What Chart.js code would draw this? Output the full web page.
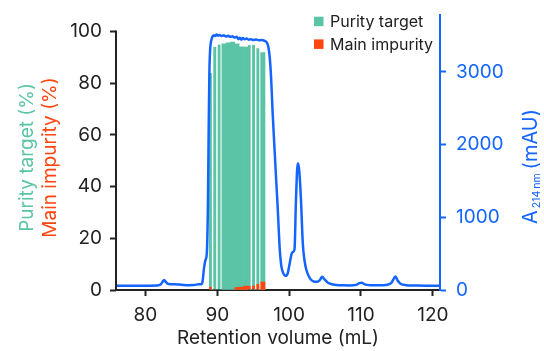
<!DOCTYPE html>
<html><head><meta charset="utf-8">
<script src="https://cdn.jsdelivr.net/npm/chart.js@4.4.1/dist/chart.umd.min.js"></script>
<style>html,body{margin:0;padding:0;background:#fff;}#wrap{width:544px;height:351px;position:relative;}</style>
</head><body><div id="wrap"><canvas id="c"></canvas></div>
<script>
// ---- data ----
const fractionVolumes = [89.14, 89.74, 90.34, 90.94, 91.54, 92.14, 92.74, 93.34, 93.94, 94.54, 95.14, 95.74, 96.34];
const purityTarget    = [84.0, 94.1, 95.0, 95.2, 95.6, 95.9, 95.2, 94.1, 94.0, 94.8, 94.9, 93.5, 91.9];
const mainImpurity    = [1.3, 0, 0, 0, 0, 0, 1.0, 1.1, 1.5, 1.5, 1.7, 2.3, 3.1];
const fractionGapAfter = [0, 1, 2, 9, 10, 11];

const traceVolume = [75.9, 77.5, 79.0, 80.5, 81.6, 82.1, 82.4, 82.6, 82.85, 83.2, 84.0, 85.0, 86.0, 86.8, 87.4, 87.8, 87.95, 88.15, 88.35, 88.55, 88.7, 88.8, 88.9, 89.0, 89.15, 89.3, 89.5, 89.7, 89.9, 90.1, 90.3, 90.6, 90.9, 91.2, 91.5, 91.8, 92.1, 92.4, 92.7, 92.95, 93.15, 93.35, 93.55, 93.8, 94.1, 94.4, 94.7, 95.0, 95.4, 95.8, 96.2, 96.6, 96.9, 97.1, 97.3, 97.5, 97.7, 97.9, 98.15, 98.4, 98.7, 98.9, 99.1, 99.5, 99.8, 100.1, 100.35, 100.55, 100.75, 100.95, 101.2, 101.4, 101.65, 101.9, 102.15, 102.4, 102.9, 103.4, 103.9, 104.3, 104.6, 104.9, 105.4, 106.0, 106.6, 107.5, 108.5, 109.3, 109.8, 110.1, 110.5, 111.3, 112.5, 113.5, 114.2, 114.6, 114.8, 115.1, 115.5, 116.3, 117.5, 119.0, 121.0];
const traceAbsorbance = [60, 58, 59, 60, 62, 75, 115, 138, 110, 82, 78, 72, 66, 68, 80, 80, 120, 300, 410, 520, 1200, 2200, 3000, 3300, 3430, 3480, 3505, 3495, 3515, 3500, 3510, 3495, 3505, 3488, 3500, 3484, 3490, 3474, 3484, 3452, 3470, 3444, 3466, 3450, 3460, 3444, 3452, 3440, 3446, 3436, 3440, 3428, 3405, 3350, 3200, 2900, 2450, 2064, 1600, 1146, 550, 340, 252, 195, 230, 380, 500, 525, 560, 1238, 1743, 1650, 1238, 643, 400, 275, 161, 118, 114, 140, 183, 150, 100, 80, 69, 64, 63, 70, 95, 100, 78, 66, 64, 70, 95, 160, 185, 130, 85, 66, 62, 60, 60];

const xTicks = [80, 90, 100, 110, 120];
const leftTicks = [0, 20, 40, 60, 80, 100];
const rightTicks = [0, 1000, 2000, 3000];

// ---- style ----
const GREEN = '#5cc4a6', RED = '#ff460f', BLUE = '#1464ff', INK = '#222222';
const FONT = "Inter, 'Liberation Sans', sans-serif";

const zeroPad = s => { s.paddingTop = 0; s.paddingBottom = 0; s.paddingLeft = 0; s.paddingRight = 0; };

const annot = {
  id: 'annot',
  afterDraw(chart) {
    const ctx = chart.ctx, a = chart.chartArea, yL = chart.scales.y;
    ctx.save();
    // left axis line from 0 to 100
    ctx.strokeStyle = INK; ctx.lineWidth = 2;
    ctx.beginPath();
    ctx.moveTo(a.left, yL.getPixelForValue(0) + 1);
    ctx.lineTo(a.left, yL.getPixelForValue(leftTicks[leftTicks.length - 1]) - 1);
    ctx.stroke();

    const cy = (a.top + a.bottom) / 2 + 5;
    // left titles
    ctx.textAlign = 'center'; ctx.textBaseline = 'middle';
    ctx.font = "19px " + FONT;
    ctx.save(); ctx.translate(27, cy); ctx.rotate(-Math.PI / 2);
    ctx.fillStyle = GREEN; ctx.fillText('Purity target (%)', 0, 0); ctx.restore();
    ctx.save(); ctx.translate(50, cy); ctx.rotate(-Math.PI / 2);
    ctx.fillStyle = RED; ctx.fillText('Main impurity (%)', 0, 0); ctx.restore();

    // right title A214 nm (mAU)
    ctx.save(); ctx.translate(537, cy + 9); ctx.rotate(-Math.PI / 2);
    ctx.fillStyle = BLUE; ctx.textAlign = 'left'; ctx.textBaseline = 'alphabetic';
    const big = "20px " + FONT, small = "10.5px " + FONT;
    ctx.font = big; const wA = ctx.measureText('A').width; const wR = ctx.measureText('(mAU)').width;
    ctx.font = small; const wS = ctx.measureText('214\u2009nm').width;
    const W = wA + 2 + wS + 4 + wR;
    let x0 = -W / 2;
    ctx.font = big; ctx.fillText('A', x0, 0);
    ctx.font = small; ctx.fillText('214\u2009nm', x0 + wA + 2, 3);
    ctx.font = big; ctx.fillText('(mAU)', x0 + wA + 2 + wS + 4, 0);
    ctx.restore();

    // legend
    const items = [['Purity target', GREEN], ['Main impurity', RED]];
    ctx.font = "16px " + FONT; ctx.textAlign = 'left'; ctx.textBaseline = 'alphabetic';
    items.forEach((it, i) => {
      const y = 16.7 + i * 22.7;
      ctx.fillStyle = it[1]; ctx.fillRect(314, y, 9.5, 9.5);
      ctx.fillStyle = INK; ctx.fillText(it[0], 330, y + 10.6);
    });
    ctx.restore();
  }
};

const gapBorder = c => fractionGapAfter.includes(c.dataIndex) ? {left: 0, right: 1.7, top: 0, bottom: 0} : 0;

new Chart(document.getElementById('c'), {
  type: 'bar',
  data: {
    datasets: [
      {
        type: 'line', label: 'A214 nm', yAxisID: 'y1', xAxisID: 'x', order: 0,
        data: traceVolume.map((x, i) => ({x, y: traceAbsorbance[i]})),
        borderColor: BLUE, borderWidth: 2.5, pointRadius: 0, fill: false,
        cubicInterpolationMode: 'monotone'
      },
      {
        type: 'bar', label: 'Main impurity', yAxisID: 'y', xAxisID: 'x', order: 1, grouped: false,
        data: fractionVolumes.map((x, i) => ({x, y: mainImpurity[i] > 0 ? mainImpurity[i] : null})),
        backgroundColor: RED, borderColor: '#ffffff', borderWidth: gapBorder,
        barPercentage: 1, categoryPercentage: 1
      },
      {
        type: 'bar', label: 'Purity target', yAxisID: 'y', xAxisID: 'x', order: 2, grouped: false,
        data: fractionVolumes.map((x, i) => ({x, y: purityTarget[i]})),
        backgroundColor: GREEN, borderColor: '#ffffff', borderWidth: gapBorder,
        barPercentage: 1, categoryPercentage: 1
      }
    ]
  },
  options: {
    responsive: true, maintainAspectRatio: false, animation: false, devicePixelRatio: 1,
    events: [],
    layout: {padding: {top: 15, left: 0, right: 0, bottom: 0}},
    plugins: {legend: {display: false}, tooltip: {enabled: false}},
    scales: {
      x: {
        type: 'linear', position: 'bottom', min: 75.9, max: 121, offset: false,
        grid: {display: true, drawOnChartArea: false, drawTicks: true, tickLength: 6, tickWidth: 2, tickColor: INK, offset: false},
        border: {display: true, color: INK, width: 2},
        ticks: {color: INK, font: {family: FONT, size: 19}, padding: 8, maxRotation: 0, autoSkip: false, callback: v => String(v)},
        afterBuildTicks: s => { s.ticks = xTicks.map(v => ({value: v})); },
        afterFit: s => { s.height = 61; zeroPad(s); },
        title: {display: true, text: 'Retention volume (mL)', color: INK, font: {family: FONT, size: 19}, padding: {top: 0, bottom: 1}}
      },
      y: {
        type: 'linear', position: 'left', min: 0, max: 106.4,
        grid: {display: true, drawOnChartArea: false, drawTicks: true, tickLength: 6, tickWidth: 2, tickColor: INK},
        border: {display: false},
        ticks: {color: INK, font: {family: FONT, size: 19}, padding: 8, callback: v => String(v)},
        afterBuildTicks: s => { s.ticks = leftTicks.map(v => ({value: v})); },
        afterFit: s => { s.width = 116; zeroPad(s); }
      },
      y1: {
        type: 'linear', position: 'right', min: 0, max: 3784,
        grid: {display: true, drawOnChartArea: false, drawTicks: true, tickLength: 6, tickWidth: 2, tickColor: BLUE},
        border: {display: true, color: BLUE, width: 2},
        ticks: {color: BLUE, font: {family: FONT, size: 19}, padding: 10, callback: v => String(v)},
        afterBuildTicks: s => { s.ticks = rightTicks.map(v => ({value: v})); },
        afterFit: s => { s.width = 104; zeroPad(s); }
      }
    }
  },
  plugins: [annot]
});
</script>
</body></html>
